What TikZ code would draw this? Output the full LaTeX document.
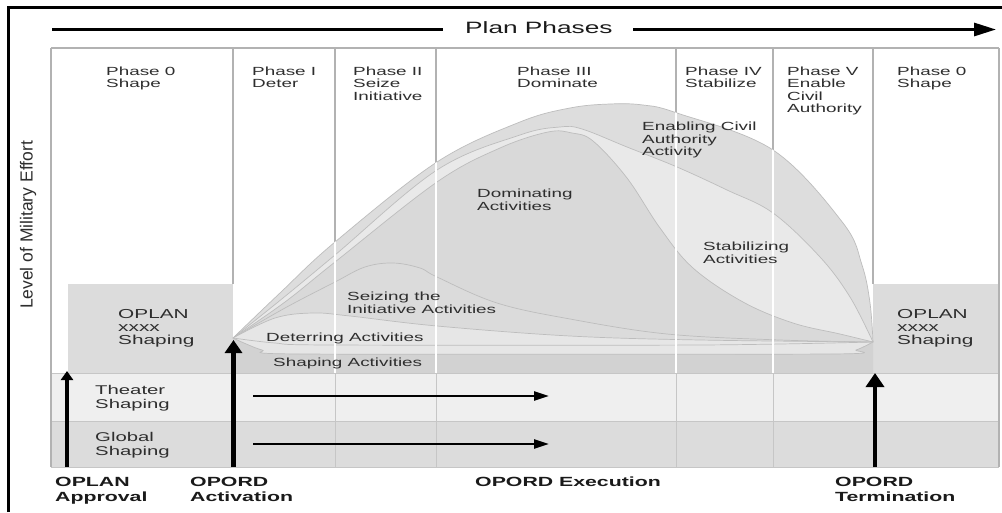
\documentclass[tikz,border=0pt]{standalone}
\usepackage{fontspec}
\setmainfont{Liberation Sans}[FakeStretch=1.6]
\newfontfamily\plainsans{Liberation Sans}
\usetikzlibrary{arrows.meta}
\definecolor{gline}{HTML}{B2B2B2}
\definecolor{rline}{HTML}{C6C6C6}
\definecolor{cline}{HTML}{BDBDBD}
\definecolor{tgray}{HTML}{2E2E2E}
\definecolor{tdark}{HTML}{1A1A1A}
\definecolor{fEnab}{HTML}{DDDDDD}
\definecolor{fStab}{HTML}{E9E9E9}
\definecolor{fDom}{HTML}{D9D9D9}
\definecolor{fSeize}{HTML}{DBDBDB}
\definecolor{fDet}{HTML}{E6E6E6}
\definecolor{fShape}{HTML}{D2D2D2}
\definecolor{fTheater}{HTML}{EFEFEF}
\definecolor{fGlobal}{HTML}{DCDCDC}
\definecolor{fOplan}{HTML}{DCDCDC}
\begin{document}
\begin{tikzpicture}[x=1pt,y=-1pt,
  txt/.style={anchor=north west,inner sep=0pt,align=left,text=tgray},
  phase/.style={txt,font=\fontsize{11.8}{12.5}\selectfont},
  act/.style={txt,font=\fontsize{11.8}{12.5}\selectfont},
  oplan/.style={txt,font=\fontsize{13}{13}\selectfont},
  rowlbl/.style={txt,font=\fontsize{12.7}{14}\selectfont},
  milestone/.style={txt,text=tdark,font=\bfseries\fontsize{13.3}{15}\selectfont},
  gridln/.style={draw=gline,line width=1.4pt},
  rowln/.style={draw=rline,line width=1pt},
  curveln/.style={draw=cline,line width=0.7pt},
  smallarrow/.style={draw=black,line width=3.5pt,-{Triangle[length=9pt,width=12pt]}},
  bigarrow/.style={draw=black,line width=4.5pt,-{Triangle[length=13pt,width=17pt]}},
  termarrow/.style={draw=black,line width=4.5pt,-{Triangle[length=14pt,width=18pt]}},
  flowarrow/.style={draw=black,line width=2.4pt,-{Triangle[length=15pt,width=9pt]}},
  phasearrow/.style={draw=black,line width=3pt,-{Triangle[length=22pt,width=13pt]}},
  frameln/.style={draw=black,line width=3pt},
]
\useasboundingbox (0,0) rectangle (1002,512);
\fill[white] (0,0) rectangle (1002,512);

% outer frame (top and left visible)
\coordinate (fr1) at (8,7.5);
\coordinate (fr0) at (8,512);
\coordinate (fr2) at (1002,7.5);
\draw[frameln] (fr0) -- (fr1) -- (fr2);

% bottom rows
\fill[fTheater] (51,373) rectangle (999,421);
\fill[fGlobal] (51,421) rectangle (999,467);

% OPLAN boxes
\fill[fOplan] (68,284) rectangle (233,373);
\fill[fOplan] (873,284) rectangle (999,373);

% grid lines (upper)
\draw[gridln] (51,48) -- (999,48);
\draw[gridln] (51,48) -- (51,467);
\draw[gridln] (999,48) -- (999,467);
\draw[gridln] (233,48) -- (233,284);
\draw[gridln] (873,48) -- (873,284);
\foreach \xx in {335,436,676,773} {\draw[gridln] (\xx,48) -- (\xx,373);}

% curve regions
\fill[fEnab] plot[smooth,tension=0.6] coordinates {(233,338) (280,293) (335,242) (437,162) (520,122) (570,108) (610,104) (643,105) (677,113) (773,150) (843,223) (862,265) (870,303) (873,342)} -- (873,373) -- (233,373) -- cycle;
\draw[curveln] plot[smooth,tension=0.6] coordinates {(233,338) (280,293) (335,242) (437,162) (520,122) (570,108) (610,104) (643,105) (677,113) (773,150) (843,223) (862,265) (870,303) (873,342)};

\fill[fStab] plot[smooth,tension=0.6] coordinates {(233,338) (283,298) (335,255) (437,170) (520,135) (560,127) (582,129) (627,147) (677,167) (727,190) (773,213) (820,257) (850,297) (873,342)} -- (873,373) -- (233,373) -- cycle;
\draw[curveln] plot[smooth,tension=0.6] coordinates {(233,338) (283,298) (335,255) (437,170) (520,135) (560,127) (582,129) (627,147) (677,167) (727,190) (773,213) (820,257) (850,297) (873,342)};

\fill[fDom] plot[smooth,tension=0.6] coordinates {(233,338) (285,302) (335,262) (437,182) (500,148) (548,132) (572,133) (593,141) (627,178) (660,228) (693,268) (743,302) (793,323) (840,334) (873,342)} -- (873,373) -- (233,373) -- cycle;
\draw[curveln] plot[smooth,tension=0.6] coordinates {(233,338) (285,302) (335,262) (437,182) (500,148) (548,132) (572,133) (593,141) (627,178) (660,228) (693,268) (743,302) (793,323) (840,334) (873,342)};

\fill[fSeize] plot[smooth,tension=0.6] coordinates {(233,338) (285,308) (335,282) (365,267) (393,263) (420,268) (437,277) (497,303) (570,319) (667,334) (780,340) (873,342)} -- (873,373) -- (233,373) -- cycle;
\draw[curveln] plot[smooth,tension=0.6] coordinates {(233,338) (285,308) (335,282) (365,267) (393,263) (420,268) (437,277) (497,303) (570,319) (667,334) (780,340) (873,342)};

\fill[fDet] plot[smooth,tension=0.6] coordinates {(233,338) (275,318) (313,313) (350,316) (437,326) (570,336) (700,340) (873,342)} -- (873,373) -- (233,373) -- cycle;
\draw[curveln] plot[smooth,tension=0.6] coordinates {(233,338) (275,318) (313,313) (350,316) (437,326) (570,336) (700,340) (873,342)};
\draw[curveln] plot[smooth,tension=0.5] coordinates {(233,338) (275,343) (330,345) (700,345) (873,342)};

\fill[fShape] plot[smooth,tension=0.4] coordinates {(233,338) (262,350) (300,354) (830,354) (856,350) (873,342)} -- (873,373) -- (233,373) -- cycle;
\draw[curveln] plot[smooth,tension=0.4] coordinates {(233,338) (262,350) (300,354) (830,354) (856,350) (873,342)};

% white phase lines through the curve regions
\begin{scope}
\clip plot[smooth,tension=0.6] coordinates {(233,338) (280,293) (335,242) (437,162) (520,122) (570,108) (610,104) (643,105) (677,113) (773,150) (843,223) (862,265) (870,303) (873,342)} -- (873,373) -- (233,373) -- cycle;
\foreach \xx in {335,436,676,773} {\draw[white,line width=2pt] (\xx,48) -- (\xx,373);}
\end{scope}

% row grid lines
\draw[rowln] (51,373) -- (999,373);
\draw[rowln] (51,421) -- (999,421);
\draw[rowln] (51,467) -- (999,467);
\foreach \xx in {335,436,676,773} {\draw[rowln] (\xx,373) -- (\xx,467);}
\draw[gridln] (51,373) -- (51,467);
\draw[gridln] (999,284) -- (999,467);

% plan phases arrow
\node[anchor=base west,inner sep=0pt,text=tdark,font=\fontsize{16.4}{16.4}\selectfont] (plan) at (465,33.5) {Plan Phases};
\coordinate (pl0) at (52,29.5);
\coordinate (pl1) at (443,29.5);
\coordinate (pr0) at (633,29.5);
\coordinate (pr1) at (996,29.5);
\draw[draw=black,line width=3pt] (pl0) -- (pl1);
\draw[phasearrow] (pr0) -- (pr1);

% milestone arrows
\coordinate (ap0) at (67,467);
\coordinate (ap1) at (67,371);
\draw[smallarrow] (ap0) -- (ap1);
\coordinate (ac0) at (233.5,467);
\coordinate (ac1) at (233.5,340);
\draw[bigarrow] (ac0) -- (ac1);
\coordinate (te0) at (875,467);
\coordinate (te1) at (875,373);
\draw[termarrow] (te0) -- (te1);
\coordinate (th0) at (253,396);
\coordinate (th1) at (549,396);
\draw[flowarrow] (th0) -- (th1);
\coordinate (gl0) at (253,444);
\coordinate (gl1) at (549,444);
\draw[flowarrow] (gl0) -- (gl1);

% phase labels
\node[phase] (ph0) at (106,66.5) {Phase 0\\Shape};
\node[phase] (ph1) at (252,66.5) {Phase I\\Deter};
\node[phase] (ph2) at (353,66.5) {Phase II\\Seize\\Initiative};
\node[phase] (ph3) at (517,66.5) {Phase III\\Dominate};
\node[phase] (ph4) at (685,66.5) {Phase IV\\Stabilize};
\node[phase] (ph5) at (787,66.5) {Phase V\\Enable\\Civil\\Authority};
\node[phase] (ph6) at (897,66.5) {Phase 0\\Shape};

% activity labels
\node[act] (aEnab) at (642,122) {Enabling Civil\\Authority\\Activity};
\node[act] (aDom) at (477,189) {Dominating\\Activities};
\node[act] (aStab) at (703,242) {Stabilizing\\Activities};
\node[act] (aSeize) at (347,292) {Seizing the\\Initiative Activities};
\node[act] (aDet) at (266,333) {Deterring Activities};
\node[act] (aShape) at (273,357.5) {Shaping Activities};

% OPLAN boxes text
\node[oplan] (opl) at (118,309) {OPLAN\\xxxx\\Shaping};
\node[oplan] (opr) at (897,309) {OPLAN\\xxxx\\Shaping};

% row labels
\node[rowlbl] (theater) at (95,385) {Theater\\Shaping};
\node[rowlbl] (global) at (95,432) {Global\\Shaping};

% milestone labels
\node[milestone] (mAppr) at (55,477) {OPLAN\\Approval};
\node[milestone] (mAct) at (190,477) {OPORD\\Activation};
\node[milestone] (mExe) at (475,477) {OPORD Execution};
\node[milestone] (mTerm) at (835,477) {OPORD\\Termination};

% axis label
\node[rotate=90,inner sep=0pt,text=tgray,font=\plainsans\fontsize{17.5}{17.5}\selectfont] (level) at (28,225) {Level of Military Effort};
\end{tikzpicture}
\end{document}
